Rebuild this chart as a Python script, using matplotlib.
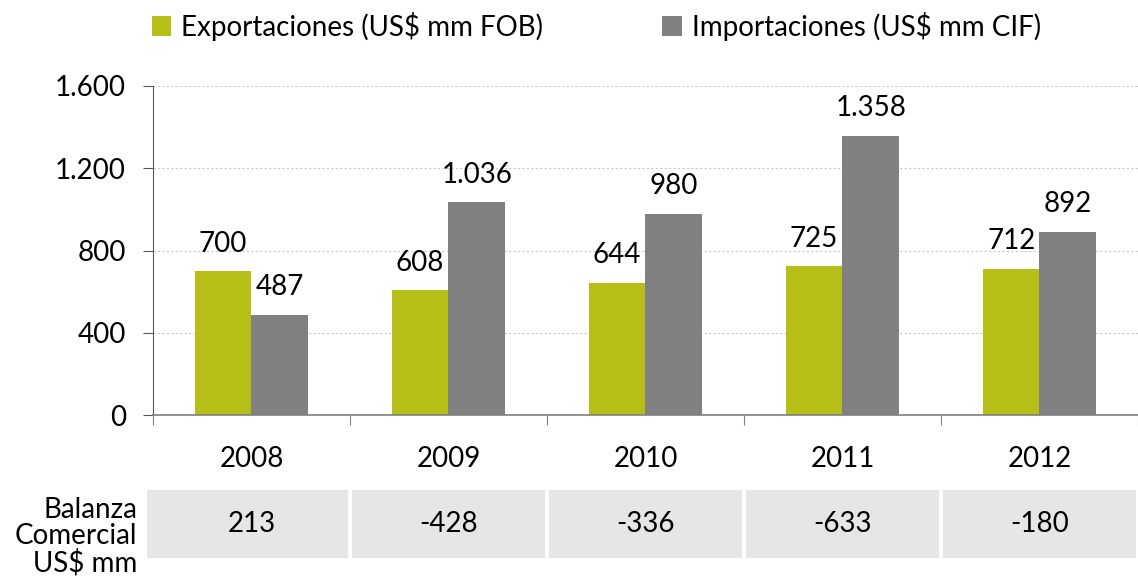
import matplotlib.pyplot as plt
import matplotlib.transforms as mtransforms
from matplotlib.patches import Rectangle
import numpy as np

plt.rcParams['font.family'] = ['Lato', 'DejaVu Sans']

years = ['2008', '2009', '2010', '2011', '2012']
exportaciones = [700, 608, 644, 725, 712]
importaciones = [487, 1036, 980, 1358, 892]
balanza = [213, -428, -336, -633, -180]
yticks = [0, 400, 800, 1200, 1600]

green = '#b5bf18'
gray = '#808080'


def fmt(v):
    # thousands separator with dot
    return f'{v:,}'.replace(',', '.')


fig = plt.figure(figsize=(11.38, 5.83), dpi=100)
ax = fig.add_axes([0.1344, 0.288, 0.8656, 0.5645])

x = np.arange(len(years))
w = 0.288
ax.bar(x - w / 2, exportaciones, w, color=green, label='Exportaciones (US$ mm FOB)')
ax.bar(x + w / 2, importaciones, w, color=gray, label='Importaciones (US$ mm CIF)')

fs = 20
for i in range(len(years)):
    ax.annotate(fmt(exportaciones[i]), (x[i] - w / 2, exportaciones[i]),
                xytext=(0, 14), textcoords='offset points',
                ha='center', va='baseline', fontsize=fs)
    ax.annotate(fmt(importaciones[i]), (x[i] + w / 2, importaciones[i]),
                xytext=(0, 14), textcoords='offset points',
                ha='center', va='baseline', fontsize=fs)

ax.set_xlim(-0.5, 4.47)
ax.set_ylim(0, 1600)
ax.set_yticks(yticks)
ax.set_yticklabels([fmt(v) for v in yticks], fontsize=fs)
ax.yaxis.grid(True, linestyle=(0, (2, 2)), color='#c8c8c8', linewidth=0.8)
ax.set_axisbelow(True)

# category boundary ticks
ax.set_xticks(np.arange(-0.5, 4.6, 1))
ax.set_xticklabels([])
ax.tick_params(axis='x', length=7.5, color=gray, direction='out')
ax.tick_params(axis='y', length=7.5, color='#595959', direction='out', pad=12)
ax.set_xticks(x, minor=True)
ax.set_xticklabels(years, minor=True, fontsize=fs)
ax.tick_params(axis='x', which='minor', length=0, pad=22)

for s in ['top', 'right']:
    ax.spines[s].set_visible(False)
ax.spines['left'].set_color('#595959')
ax.spines['bottom'].set_color(gray)
ax.spines['bottom'].set_linewidth(1.2)

# balanza comercial table row
trans = mtransforms.blended_transform_factory(ax.transData, ax.transAxes)
for i, v in enumerate(balanza):
    x0 = i - 0.5 + 0.012 if i > 0 else -0.53
    x1 = i + 0.5 - 0.012
    ax.add_patch(Rectangle((x0, -0.435), x1 - x0, 0.207, transform=trans,
                           facecolor='#e6e6e6', edgecolor='none', clip_on=False))
    ax.text(i, -0.33, str(v), transform=trans, ha='center', va='center', fontsize=fs)
ax.text(-0.58, -0.37, 'Balanza\nComercial\nUS$ mm', transform=trans, ha='right',
        va='center', fontsize=fs, linespacing=1.0)

fig.legend(loc='upper left', bbox_to_anchor=(0.1115, 1.023), ncol=2, frameon=False,
           fontsize=fs, handlelength=0.7, handleheight=0.7, handletextpad=0.35,
           columnspacing=4.3)

fig.savefig('out.png', dpi=100)
